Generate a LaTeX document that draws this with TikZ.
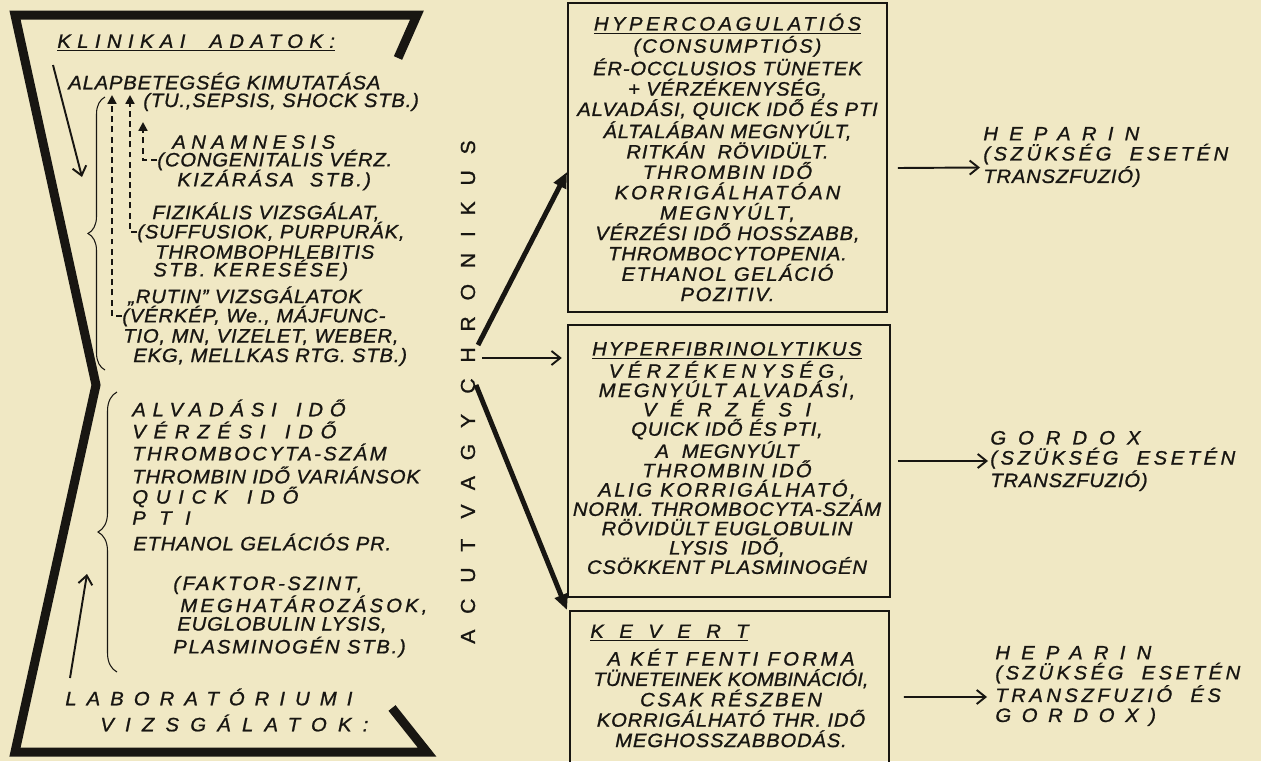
\documentclass[tikz,border=0pt]{standalone}
\usepackage{fontspec}
\setmainfont{Liberation Sans}[FakeStretch=1.05,LetterSpace=4,FakeBold=1]
\usetikzlibrary{arrows.meta,decorations.pathreplacing,calc}
\definecolor{paper}{RGB}{240,232,196}
\definecolor{ink}{RGB}{24,22,18}
\newcommand{\ls}[2]{{\addfontfeature{LetterSpace=#1}#2}}
\tikzset{
    txt/.style={
        anchor=west,
        inner sep=0pt,
        text=ink,
        font=\fontsize{11}{12}\selectfont\itshape,
    },
    boxtxt/.style={
        align=center,
        inner sep=0pt,
        text=ink,
        font=\fontsize{11}{11.6}\selectfont\itshape,
    },
    sidetxt/.style={
        anchor=west,
        align=left,
        inner sep=0pt,
        text=ink,
        font=\fontsize{11}{11.4}\selectfont\itshape,
    },
    panel/.style={
        rectangle,
        draw=ink,
        line width=1.1pt,
        inner sep=0pt,
    },
    outline/.style={
        draw=ink,
        line width=0.18cm,
        line join=miter,
    },
    bigarrow/.style={
        draw=ink,
        -{Triangle[length=9pt,width=7.5pt]},
        line width=2.8pt,
    },
    smallarrow/.style={
        draw=ink,
        -{Straight Barb[length=5pt,width=8pt]},
        line width=1.1pt,
    },
    dasharrow/.style={
        draw=ink,
        -{Triangle[length=5pt,width=5pt]},
        line width=1.2pt,
        dash pattern=on 3.4pt off 2.4pt,
    },
    bracket/.style={
        draw=ink,
        semithick,
        decorate,
        decoration={brace,amplitude=#1},
    },
}

\begin{document}
\begin{tikzpicture}[x=0.02cm,y=-0.02cm]

    % Page and the heavy outline
    \clip (0,0) rectangle (1261,761);
    \fill[paper] (0,0) rectangle (1261,761);
    \draw[outline] (398,58) -- (417,15) -- (15,15) -- (96,385) -- (15,752) -- (427,752) -- (392,708);

    % Clinical data
    \node[txt] (klin) at (57,43) {\underline{\ls{33}{KLINIKAI\ \ ADATOK:}}};
    \node[txt] (alap) at (68,81) {ALAPBETEGSÉG KIMUTATÁSA};
    \node[txt] (tu) at (143,102) {(TU.,SEPSIS, SHOCK STB.)};
    \node[txt] (anam) at (172,142) {\ls{28}{ANAMNESIS}};
    \node[txt] (cong) at (157,160) {(CONGENITALIS VÉRZ.};
    \node[txt] (kiz) at (177,180) {\ls{12}{KIZÁRÁSA\ \ STB.)}};
    \node[txt] (fiz) at (152,212) {FIZIKÁLIS VIZSGÁLAT,};
    \node[txt] (suff) at (137,232) {(SUFFUSIOK, PURPURÁK,};
    \node[txt] (thph) at (155,252) {THROMBOPHLEBITIS};
    \node[txt] (kere) at (153,270) {\ls{12}{STB. KERESÉSE)}};
    \node[txt] (rutin) at (128,296) {„RUTIN” VIZSGÁLATOK};
    \node[txt] (verk) at (122,316) {(VÉRKÉP, We., MÁJFUNC-};
    \node[txt] (tio) at (123,337) {TIO, MN, VIZELET, WEBER,};
    \node[txt] (ekg) at (133,357) {EKG, MELLKAS RTG. STB.)};

    % Laboratory tests
    \node[txt] (alv) at (132,408) {\ls{35}{ALVADÁSI\quad IDŐ}};
    \node[txt] (verz) at (132,430) {\ls{40}{VÉRZÉSI\quad IDŐ}};
    \node[txt] (tcsz) at (132,452) {\ls{12}{THROMBOCYTA-SZÁM}};
    \node[txt] (tbi) at (132,475) {THROMBIN IDŐ VARIÁNSOK};
    \node[txt] (quick) at (132,497) {\ls{40}{QUICK\quad IDŐ}};
    \node[txt] (pti) at (132,518) {\ls{40}{P T I}};
    \node[txt] (etha) at (133,542) {ETHANOL GELÁCIÓS PR.};
    \node[txt] (fakt) at (173,585) {\ls{13}{(FAKTOR-SZINT,}};
    \node[txt] (megh) at (180,605) {\ls{16}{MEGHATÁROZÁSOK,}};
    \node[txt] (eugl) at (177,625) {EUGLOBULIN LYSIS,};
    \node[txt] (plas) at (173,647) {\ls{9}{PLASMINOGÉN STB.)}};
    \node[txt] (labor) at (65,697) {\ls{52}{LABORATÓRIUMI}};
    \node[txt] (vizsg) at (100,723) {\ls{58}{VIZSGÁLATOK:}};

    % Arrows and braces of the left column
    \coordinate (kl-top) at (53,65);
    \coordinate (kl-bot) at (82,177);
    \coordinate (lab-bot) at (70,678);
    \coordinate (lab-top) at (87,574);
    \coordinate (da) at (112,95);
    \coordinate (db) at (130,95);
    \coordinate (dc) at (143,122);
    \draw[smallarrow] (kl-top) -- (kl-bot);
    \draw[smallarrow] (lab-bot) -- (lab-top);
    \draw[dasharrow] (verk.west) -| (da);
    \draw[dasharrow] (suff.west) -| (db);
    \draw[dasharrow] (cong.west) -| (dc);
    \draw[bracket=0.34cm] (105,370) -- (105,97);
    \draw[bracket=0.38cm] (117,672) -- (117,392);

    % Course of the disease
    \node[txt, anchor=center, rotate=90, font=\fontsize{11.5}{12}\selectfont] (acut) at (468,392)
        {\ls{78}{ACUT\quad VAGY\quad CHRONIKUS}};

    % Forms
    \node[panel, minimum width=6.38cm, minimum height=6.18cm] (b1) at (727.5,157.5) {};
    \node[boxtxt] (b1txt) at (b1.center) {\underline{\ls{18}{HYPERCOAGULATIÓS}}\\
        \ls{10}{(CONSUMPTIÓS)}\\
        ÉR-OCCLUSIOS TÜNETEK\\
        + VÉRZÉKENYSÉG,\\
        ALVADÁSI, QUICK IDŐ ÉS PTI\\
        ÁLTALÁBAN MEGNYÚLT,\\
        RITKÁN\ \ RÖVIDÜLT.\\
        \ls{10}{THROMBIN IDŐ}\\
        \ls{15}{KORRIGÁLHATÓAN}\\
        \ls{13}{MEGNYÚLT,}\\
        VÉRZÉSI IDŐ HOSSZABB,\\
        THROMBOCYTOPENIA.\\
        \ls{8}{ETHANOL GELÁCIÓ}\\
        \ls{8}{POZITIV.}};

    \node[panel, minimum width=6.44cm, minimum height=5.44cm] (b2) at (729,461) {};
    \node[boxtxt, font=\fontsize{11}{11}\selectfont\itshape] (b2txt) at (727,458) {\underline{\ls{10}{HYPERFIBRINOLYTIKUS}}\\
        \ls{28}{VÉRZÉKENYSÉG,}\\
        \ls{12}{MEGNYÚLT ALVADÁSI,}\\
        \ls{70}{VÉRZÉSI}\\
        QUICK IDŐ ÉS PTI,\\
        A\ \ MEGNYÚLT\\
        \ls{10}{THROMBIN IDŐ}\\
        \ls{13}{ALIG KORRIGÁLHATÓ,}\\
        NORM. THROMBOCYTA-SZÁM\\
        RÖVIDÜLT EUGLOBULIN\\
        LYSIS\ \ IDŐ,\\
        CSÖKKENT PLASMINOGÉN};

    \node[panel, minimum width=6.38cm, minimum height=3.38cm] (b3) at (729.5,695.5) {};
    \node[txt] (kev) at (590,633) {\underline{\ls{80}{KEVERT}}};
    \node[boxtxt] (b3txt) at (731,698) {\ls{18}{A KÉT FENTI FORMA}\\
        \ls{0}{TÜNETEINEK KOMBINÁCIÓI,}\\
        \ls{13}{CSAK RÉSZBEN}\\
        KORRIGÁLHATÓ THR. IDŐ\\
        MEGHOSSZABBODÁS.};

    % Treatment
    \node[sidetxt] (hep1) at (983,157) {\ls{58}{HEPARIN}\\
        \ls{18}{(SZÜKSÉG\ \ ESETÉN}\\
        TRANSZFUZIÓ)};
    \node[sidetxt] (gor) at (990,461) {\ls{62}{GORDOX}\\
        \ls{18}{(SZÜKSÉG\ \ ESETÉN}\\
        TRANSZFUZIÓ)};
    \node[sidetxt] (hep2) at (995,686) {\ls{58}{HEPARIN}\\
        \ls{18}{(SZÜKSÉG\ \ ESETÉN}\\
        \ls{18}{TRANSZFUZIÓ\ \ ÉS}\\
        \ls{55}{GORDOX)}};

    % Connections
    \coordinate (fork-up) at (478,345);
    \coordinate (fork-mid) at (482,358);
    \coordinate (fork-down) at (476,385);
    \draw[bigarrow] (fork-up) -- ([yshift=-0.29cm]b1.west);
    \draw[smallarrow, shorten >=3pt] (fork-mid) -- (b2.west |- fork-mid);
    \draw[bigarrow] (fork-down) -- ([xshift=-0.04cm]b3.north west);
    \draw[smallarrow] ([xshift=0.2cm,yshift=-0.21cm]b1.east) -- ([xshift=-0.06cm,yshift=-0.21cm]hep1.west);
    \draw[smallarrow] ([xshift=0.14cm]b2.east) -- ([xshift=-0.04cm]gor.west);
    \draw[smallarrow] ([xshift=0.28cm,yshift=-0.03cm]b3.east) -- ([xshift=-0.16cm,yshift=-0.22cm]hep2.west);
\end{tikzpicture}
\end{document}
